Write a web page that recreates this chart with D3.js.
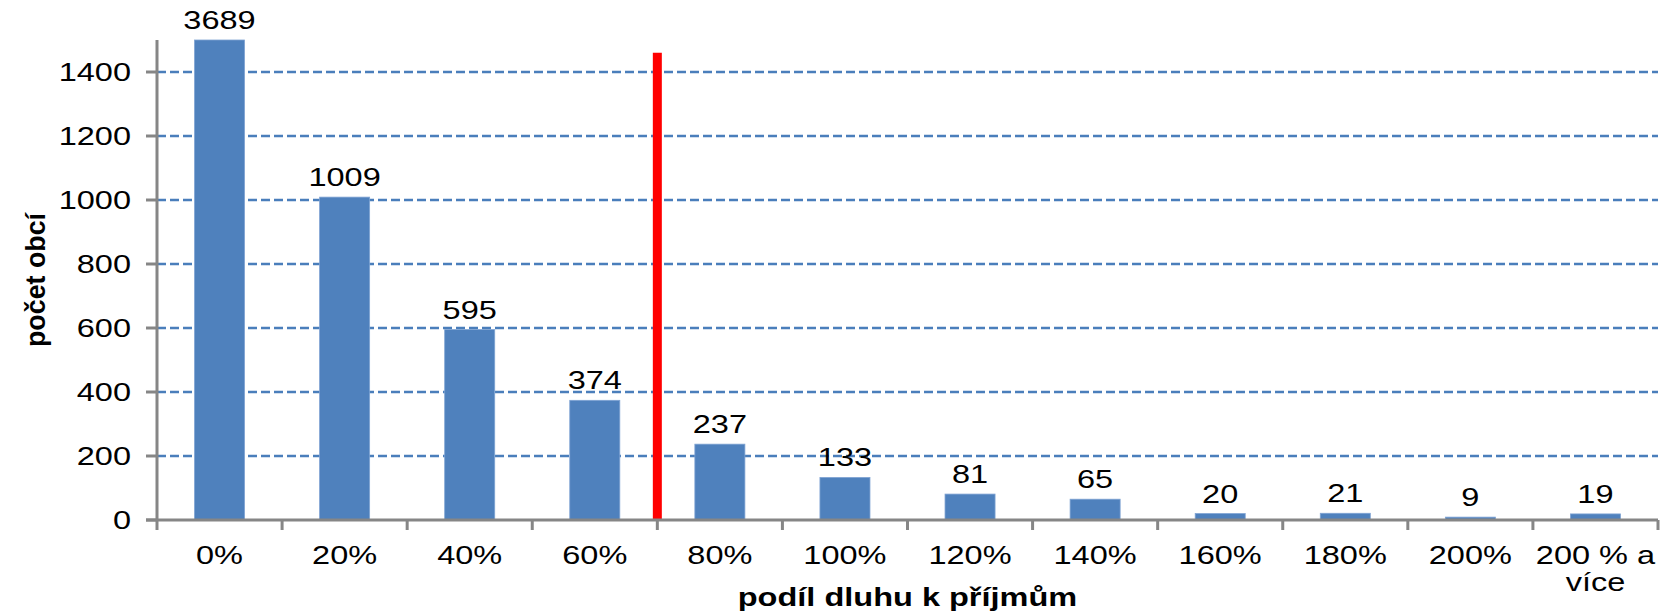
<!DOCTYPE html>
<html>
<head>
<meta charset="utf-8">
<script src="https://cdn.jsdelivr.net/npm/d3@7"></script>
<style>
  html, body { margin: 0; padding: 0; background: #fff; }
  svg text { font-family: "Liberation Sans", Arial, sans-serif; fill: #000; }
</style>
</head>
<body>
<div id="chart"></div>
<script>
// categories and counts
var categories = ["0%", "20%", "40%", "60%", "80%", "100%", "120%", "140%", "160%", "180%", "200%", "200 % a\nvíce"];
var counts = [3689, 1009, 595, 374, 237, 133, 81, 65, 20, 21, 9, 19];
var yTicks = [0, 200, 400, 600, 800, 1000, 1200, 1400];
var yMax = 1500;          // axis is cut here, first bar is clipped
var redLineAt = "80%";    // red marker sits on the left edge of this category
var redLineTop = 1460;

var w = 1663, h = 612;
var margin = { left: 157, right: 5, top: 40, bottom: 92 };
var stretch = 1.3;        // text in the original is drawn wider than normal

var svg = d3.select("#chart").append("svg")
  .attr("width", w)
  .attr("height", h);

var x = d3.scaleBand()
  .domain(categories)
  .range([margin.left, w - margin.right])
  .padding(0);

var y = d3.scaleLinear()
  .domain([0, yMax])
  .range([h - margin.bottom, margin.top]);

function widen(sel, len) {
  sel.each(function() {
    var t = d3.select(this);
    var l = len || this.getComputedTextLength() * stretch;
    t.attr("textLength", l).attr("lengthAdjust", "spacingAndGlyphs");
  });
}

// grid lines
svg.append("g")
  .selectAll("line")
  .data(yTicks.filter(function(d) { return d > 0; }))
  .enter()
  .append("line")
  .attr("x1", margin.left)
  .attr("x2", w - margin.right)
  .attr("y1", function(d) { return y(d); })
  .attr("y2", function(d) { return y(d); })
  .attr("stroke", "#4A7EBB")
  .attr("stroke-width", 2.6)
  .attr("stroke-dasharray", "9,4");

// bars
var bw = x.bandwidth() * 0.4;
svg.append("g")
  .selectAll("rect")
  .data(categories)
  .enter()
  .append("rect")
  .attr("x", function(d) { return x(d) + (x.bandwidth() - bw) / 2; })
  .attr("width", bw)
  .attr("y", function(d, i) { return y(Math.min(counts[i], yMax)); })
  .attr("height", function(d, i) { return y(0) - y(Math.min(counts[i], yMax)); })
  .attr("fill", "#4F81BD")
  .attr("stroke", "#7FA3D3")
  .attr("stroke-width", 0.8);

// value labels
svg.append("g")
  .selectAll("text")
  .data(categories)
  .enter()
  .append("text")
  .attr("x", function(d) { return x(d) + x.bandwidth() / 2; })
  .attr("y", function(d, i) { return y(Math.min(counts[i], yMax)) - 11; })
  .attr("text-anchor", "middle")
  .style("font-size", "25px")
  .text(function(d, i) { return counts[i]; })
  .call(widen);

// red marker line
svg.append("line")
  .attr("x1", x(redLineAt))
  .attr("x2", x(redLineAt))
  .attr("y1", y(0))
  .attr("y2", y(redLineTop))
  .attr("stroke", "#FF0000")
  .attr("stroke-width", 9);

// axes
var axisColor = "#868686";
svg.append("line")
  .attr("x1", margin.left).attr("x2", margin.left)
  .attr("y1", y(0)).attr("y2", y(yMax))
  .attr("stroke", axisColor).attr("stroke-width", 3);
svg.append("line")
  .attr("x1", margin.left - 11).attr("x2", w - margin.right)
  .attr("y1", y(0)).attr("y2", y(0))
  .attr("stroke", axisColor).attr("stroke-width", 3);

// y ticks + labels
var yt = svg.append("g");
yt.selectAll("line")
  .data(yTicks)
  .enter()
  .append("line")
  .attr("x1", margin.left - 11).attr("x2", margin.left)
  .attr("y1", function(d) { return y(d); })
  .attr("y2", function(d) { return y(d); })
  .attr("stroke", axisColor).attr("stroke-width", 3);
yt.selectAll("text")
  .data(yTicks)
  .enter()
  .append("text")
  .attr("x", margin.left - 26)
  .attr("y", function(d) { return y(d); })
  .attr("dy", "0.36em")
  .attr("text-anchor", "end")
  .style("font-size", "25px")
  .text(function(d) { return d; })
  .call(widen);

// x ticks at category boundaries
var bounds = categories.map(function(d) { return x(d); }).concat([x.range()[1]]);
svg.append("g")
  .selectAll("line")
  .data(bounds)
  .enter()
  .append("line")
  .attr("x1", function(d) { return d; })
  .attr("x2", function(d) { return d; })
  .attr("y1", y(0))
  .attr("y2", y(0) + 10)
  .attr("stroke", axisColor).attr("stroke-width", 3);

// x labels (may be two lines)
var xl = svg.append("g")
  .selectAll("text")
  .data(categories)
  .enter()
  .append("text")
  .attr("text-anchor", "middle")
  .style("font-size", "25px");
xl.each(function(d) {
  var t = d3.select(this);
  var cx = x(d) + x.bandwidth() / 2;
  d.split("\n").forEach(function(line, k) {
    t.append("tspan")
      .attr("x", cx)
      .attr("y", y(0) + 44 + k * 27)
      .text(line);
  });
});
xl.selectAll("tspan").call(widen);

// axis titles
svg.append("text")
  .attr("x", (margin.left + w - margin.right) / 2)
  .attr("y", 606)
  .attr("text-anchor", "middle")
  .style("font-size", "25px")
  .style("font-weight", "bold")
  .text("podíl dluhu k příjmům")
  .call(widen);

svg.append("text")
  .attr("transform", "translate(45," + (y(0) + y(yMax)) / 2 + ") rotate(-90)")
  .attr("text-anchor", "middle")
  .style("font-size", "27px")
  .style("font-weight", "bold")
  .text("počet obcí")
  .call(widen, 134);
</script>
</body>
</html>
